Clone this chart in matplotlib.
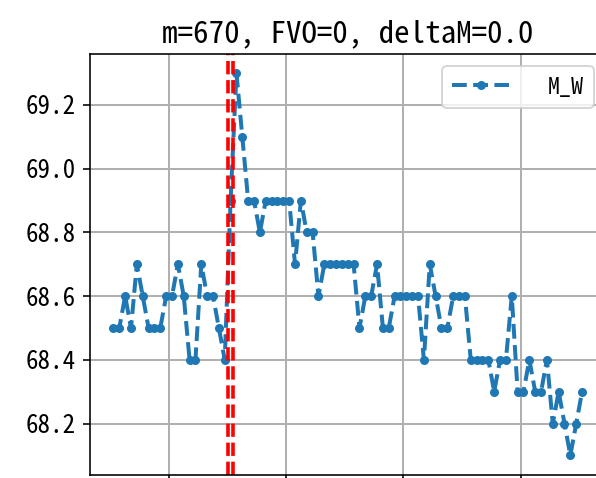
import numpy as np
import matplotlib
matplotlib.use("Agg")
import matplotlib.pyplot as plt

plt.rcParams['font.family'] = ['Noto Sans Mono CJK SC', 'DejaVu Sans Mono']
plt.rcParams['axes.unicode_minus'] = False

# M_W readings, one per step
m_w = [68.5, 68.5, 68.6, 68.5, 68.7, 68.6, 68.5, 68.5, 68.5, 68.6,
       68.6, 68.7, 68.6, 68.4, 68.4, 68.7, 68.6, 68.6, 68.5, 68.4,
       68.9, 69.3, 69.1, 68.9, 68.9, 68.8, 68.9, 68.9, 68.9, 68.9,
       68.9, 68.7, 68.9, 68.8, 68.8, 68.6, 68.7, 68.7, 68.7, 68.7,
       68.7, 68.7, 68.5, 68.6, 68.6, 68.7, 68.5, 68.5, 68.6, 68.6,
       68.6, 68.6, 68.6, 68.4, 68.7, 68.6, 68.5, 68.5, 68.6, 68.6,
       68.6, 68.4, 68.4, 68.4, 68.4, 68.3, 68.4, 68.4, 68.6, 68.3,
       68.3, 68.4, 68.3, 68.3, 68.4, 68.2, 68.3, 68.2, 68.1, 68.2,
       68.3]
steps = np.arange(len(m_w)) + 10.5

# change points marked in red
marks = [30.0, 30.9]

m, fv0, delta_m = 670, 0, 0.0

dpi = 144
fig = plt.figure(figsize=(596 / dpi, 478 / dpi), dpi=dpi)
ax = fig.add_axes([90 / 596, 3.5 / 478, 515.5 / 596, 420.5 / 478])

ax.plot(steps, m_w, '.--', color='#1f77b4', linewidth=2, markersize=7,
        label='M_W')
for xv in marks:
    ax.axvline(xv, color='red', linestyle='--', linewidth=1.8)

ax.grid(True, color='#b0b0b0', linewidth=1)
ax.set_xticklabels([])
ax.tick_params(axis='y', labelsize=12.5)
ax.set_title(f"m={m}, FVO={fv0}, deltaM={delta_m}", fontsize=15.5)
ax.legend(loc='upper right', fontsize=12, handlelength=2.4, handletextpad=1.6)

fig.savefig("out.png", dpi=dpi)
